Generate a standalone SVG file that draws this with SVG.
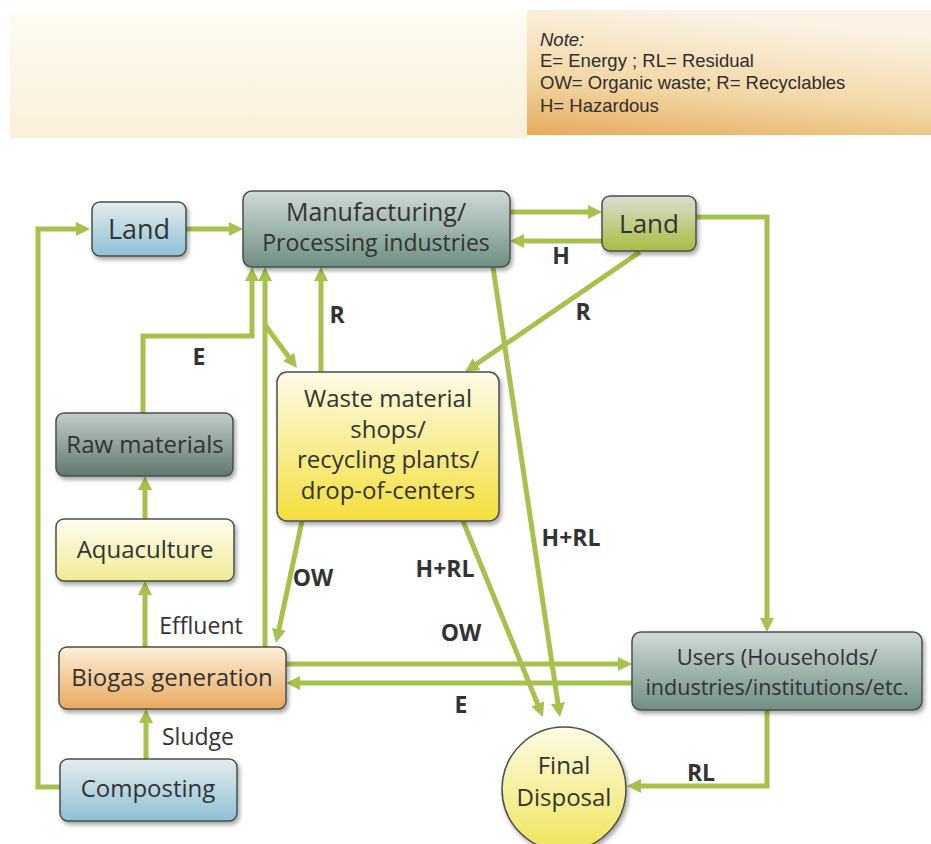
<svg xmlns="http://www.w3.org/2000/svg" width="931" height="844" viewBox="0 0 931 844">
  <defs>
    <style>
      .node { stroke: #4a4f4c; stroke-width: 1.5; filter: url(#shadow); }
      .ntext { font-family: "Open Sans", "Liberation Sans", sans-serif; font-size: 24px; fill: #333333; text-anchor: middle; }
      .lbl { font-family: "Open Sans", "Liberation Sans", sans-serif; font-size: 23px; font-weight: bold; fill: #333333; text-anchor: middle; }
      .lbln { font-family: "Open Sans", "Liberation Sans", sans-serif; font-size: 23px; fill: #333333; text-anchor: middle; }
      .note { font-family: "Liberation Sans", Arial, sans-serif; font-size: 18.5px; fill: #2e2e2e; }
      .conn { fill: none; stroke: #a6c14c; stroke-width: 5; marker-end: url(#arrow); }
    </style>
    <filter id="shadow" x="-10%" y="-10%" width="125%" height="135%">
      <feDropShadow dx="2" dy="3" stdDeviation="2" flood-color="#000000" flood-opacity="0.35"/>
    </filter>
    <marker id="arrow" markerUnits="userSpaceOnUse" markerWidth="16" markerHeight="14" refX="4" refY="7" orient="auto">
      <path d="M0,0 L14,7 L0,14 z" fill="#a6c14c"/>
    </marker>
    <linearGradient id="gBlue" x1="0" y1="0" x2="0" y2="1">
      <stop offset="0" stop-color="#e4ecee"/>
      <stop offset="1" stop-color="#8ec0d4"/>
    </linearGradient>
    <linearGradient id="gSlate" x1="0" y1="0" x2="0" y2="1">
      <stop offset="0" stop-color="#d0dad6"/>
      <stop offset="1" stop-color="#6f8f82"/>
    </linearGradient>
    <linearGradient id="gDark" x1="0" y1="0" x2="0" y2="1">
      <stop offset="0" stop-color="#c2ccc8"/>
      <stop offset="1" stop-color="#5f796f"/>
    </linearGradient>
    <linearGradient id="gOlive" x1="0" y1="0" x2="0" y2="1">
      <stop offset="0" stop-color="#dedcd4"/>
      <stop offset="1" stop-color="#a6bd3e"/>
    </linearGradient>
    <linearGradient id="gYellow" x1="0" y1="0" x2="0" y2="1">
      <stop offset="0" stop-color="#fdfbe8"/>
      <stop offset="1" stop-color="#f4df3c"/>
    </linearGradient>
    <linearGradient id="gPale" x1="0" y1="0" x2="0" y2="1">
      <stop offset="0" stop-color="#fefdf0"/>
      <stop offset="1" stop-color="#f1eb92"/>
    </linearGradient>
    <linearGradient id="gOrange" x1="0" y1="0" x2="0" y2="1">
      <stop offset="0" stop-color="#fcefd8"/>
      <stop offset="1" stop-color="#e9a85e"/>
    </linearGradient>
    <linearGradient id="gDisc" x1="0" y1="0" x2="0" y2="1">
      <stop offset="0" stop-color="#fdfbe4"/>
      <stop offset="1" stop-color="#efe55a"/>
    </linearGradient>
    <linearGradient id="gBannerL" x1="0" y1="0" x2="0" y2="1">
      <stop offset="0" stop-color="#fefbf2"/>
      <stop offset="1" stop-color="#faf0da"/>
    </linearGradient>
    <linearGradient id="gBannerR" x1="0.3" y1="0" x2="0" y2="1">
      <stop offset="0" stop-color="#fbf2e4"/>
      <stop offset="0.55" stop-color="#f3d8a6"/>
      <stop offset="1" stop-color="#e5aa5e"/>
    </linearGradient>
  </defs>

  <rect width="931" height="844" fill="#ffffff"/>

  <!-- header band with legend -->
  <g id="legend">
    <rect x="10" y="13" width="517" height="125" fill="url(#gBannerL)"/>
    <rect x="527" y="10" width="404" height="125" fill="url(#gBannerR)"/>
    <text class="note" x="540" y="46" font-style="italic">Note:</text>
    <text class="note" x="540" y="67">E= Energy ; RL= Residual</text>
    <text class="note" x="540" y="89">OW= Organic waste; R= Recyclables</text>
    <text class="note" x="540" y="112">H= Hazardous</text>
  </g>

  <!-- flows -->
  <g id="connectors">
    <path class="conn" d="M60,787 H38 V229 H80"/>
    <path class="conn" d="M186,229 H233"/>
    <path class="conn" d="M510,212 H592"/>
    <path class="conn" d="M602,241 H520"/>
    <path class="conn" d="M696,217 H767 V622"/>
    <path class="conn" d="M640,252 L473.2,366.3"/>
    <path class="conn" d="M493,267 L558.5,707.1"/>
    <path class="conn" d="M321,372 V277"/>
    <path class="conn" d="M143,413 V336 H252 V277"/>
    <path class="conn" d="M145,519 V486"/>
    <path class="conn" d="M145,647 V591"/>
    <path class="conn" d="M146,759 V719"/>
    <path class="conn" d="M265,647 V277"/>
    <path class="conn" d="M265,325 L291,360"/>
    <path class="conn" d="M302,521 L278.1,633.2"/>
    <path class="conn" d="M463,521 L539.2,707.7"/>
    <path class="conn" d="M286,664 H622"/>
    <path class="conn" d="M632,683 H296"/>
    <path class="conn" d="M767,710 V786 H637"/>

    <text class="lbl" x="561" y="264">H</text>
    <text class="lbl" x="583" y="320">R</text>
    <text class="lbl" x="337" y="323">R</text>
    <text class="lbl" x="199" y="365">E</text>
    <text class="lbl" x="313" y="586">OW</text>
    <text class="lbl" x="445" y="577">H+RL</text>
    <text class="lbl" x="571" y="546">H+RL</text>
    <text class="lbl" x="461" y="641">OW</text>
    <text class="lbl" x="461" y="713">E</text>
    <text class="lbl" x="701" y="781">RL</text>
    <text class="lbln" x="201" y="634">Effluent</text>
    <text class="lbln" x="198" y="745">Sludge</text>
  </g>

  <g id="land-left">
    <rect class="node" x="92" y="202" width="94" height="54" rx="8" fill="url(#gBlue)"/>
    <text class="ntext" x="139" y="239" style="font-size:27px">Land</text>
  </g>

  <g id="manufacturing">
    <rect class="node" x="243" y="191" width="267" height="76" rx="9" fill="url(#gSlate)"/>
    <text class="ntext" x="376" y="221" style="font-size:25px">Manufacturing/</text>
    <text class="ntext" x="376" y="251" style="font-size:23px">Processing industries</text>
  </g>

  <g id="land-right">
    <rect class="node" x="602" y="196" width="94" height="55" rx="8" fill="url(#gOlive)"/>
    <text class="ntext" x="649" y="233" style="font-size:26px">Land</text>
  </g>

  <g id="waste-shops">
    <rect class="node" x="277" y="372" width="222" height="149" rx="10" fill="url(#gYellow)"/>
    <text class="ntext" x="388" y="407">Waste material</text>
    <text class="ntext" x="388" y="438">shops/</text>
    <text class="ntext" x="388" y="468">recycling plants/</text>
    <text class="ntext" x="388" y="499">drop-of-centers</text>
  </g>

  <g id="raw-materials">
    <rect class="node" x="56" y="413" width="177" height="63" rx="8" fill="url(#gDark)"/>
    <text class="ntext" x="145" y="453">Raw materials</text>
  </g>

  <g id="aquaculture">
    <rect class="node" x="56" y="519" width="178" height="62" rx="8" fill="url(#gPale)"/>
    <text class="ntext" x="145" y="558">Aquaculture</text>
  </g>

  <g id="biogas">
    <rect class="node" x="59" y="647" width="227" height="62" rx="8" fill="url(#gOrange)"/>
    <text class="ntext" x="172" y="686">Biogas generation</text>
  </g>

  <g id="composting">
    <rect class="node" x="60" y="759" width="177" height="62" rx="8" fill="url(#gBlue)"/>
    <text class="ntext" x="148" y="797">Composting</text>
  </g>

  <g id="users">
    <rect class="node" x="632" y="632" width="290" height="78" rx="9" fill="url(#gSlate)"/>
    <text class="ntext" x="777" y="665" style="font-size:22px">Users (Households/</text>
    <text class="ntext" x="777" y="695" style="font-size:21.5px">industries/institutions/etc.</text>
  </g>

  <g id="final-disposal">
    <circle class="node" cx="564" cy="789" r="62" fill="url(#gDisc)"/>
    <text class="ntext" x="564" y="774">Final</text>
    <text class="ntext" x="564" y="806">Disposal</text>
  </g>
</svg>
